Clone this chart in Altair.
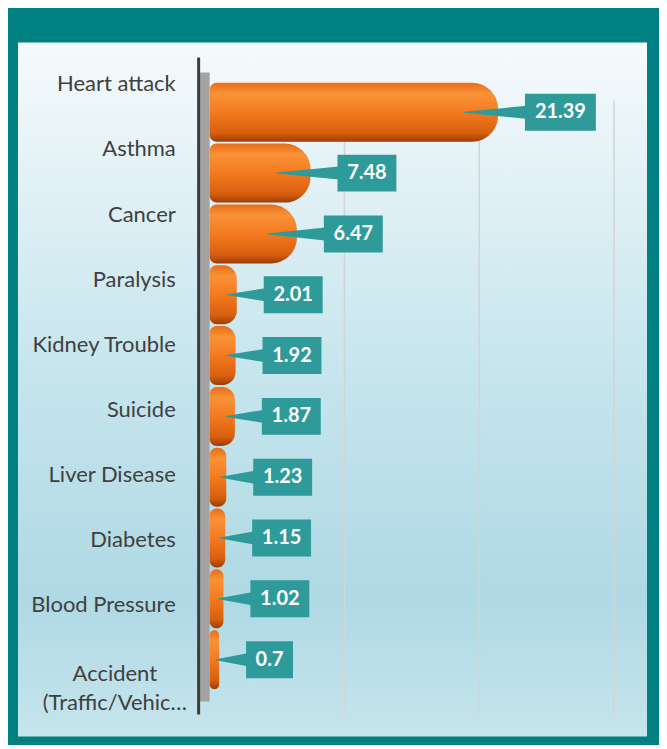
import altair as alt
import pandas as pd
import numpy as np

categories = ["Heart attack", "Asthma", "Cancer", "Paralysis", "Kidney Trouble",
              "Suicide", "Liver Disease", "Diabetes", "Blood Pressure",
              "Accident (Traffic/Vehic…"]
label_text = ["Heart attack", "Asthma", "Cancer", "Paralysis", "Kidney Trouble",
              "Suicide", "Liver Disease", "Diabetes", "Blood Pressure",
              "Accident\n(Traffic/Vehic…"]
values = [21.39, 7.48, 6.47, 2.01, 1.92, 1.87, 1.23, 1.15, 1.02, 0.7]
value_labels = ["21.39", "7.48", "6.47", "2.01", "1.92", "1.87", "1.23", "1.15", "1.02", "0.7"]
grid_ticks = [10, 20, 30]

PX = 13.5          # pixels per unit
W, H = 630, 695    # plot area (inner panel)
X0 = 192           # pixel of value 0
xdom = [-X0 / PX, (W - X0) / PX]

df = pd.DataFrame({"cat": categories, "v": values, "lab": value_labels})
df["z"] = 0.0
df["box_x"] = df["v"] + 27 / PX
df["box_x2"] = df["box_x"] + (12 * df["lab"].str.len() + 11) / PX
df["mid"] = (df["box_x"] + df["box_x2"]) / 2
df["tip"] = df["v"] - np.minimum(2.5, 0.33 * df["v"])

wedge = pd.concat([
    pd.DataFrame({"cat": df["cat"], "x": df["tip"], "s": 0.0}),
    pd.DataFrame({"cat": df["cat"], "x": df["box_x"] + 0.1, "s": 13.0}),
], ignore_index=True)

lab_df = pd.DataFrame({"cat": categories, "txt": label_text})

frame = pd.DataFrame({"x0": [xdom[0]], "x1": [xdom[1]], "w0": [-0.75], "w1": [0.0], "ax": [-0.82]})

xs = alt.Scale(domain=xdom, nice=False, zero=False)
ys = alt.Scale(domain=categories, paddingInner=0.03, paddingOuter=0.72, align=0.46)

bg_grad = alt.LinearGradient(
    gradient="linear", x1=0, x2=0, y1=0, y2=1,
    stops=[alt.GradientStop(offset=0, color="#F6FAFC"),
           alt.GradientStop(offset=0.45, color="#C8E6EE"),
           alt.GradientStop(offset=0.8, color="#AFD9E4"),
           alt.GradientStop(offset=1, color="#C6E5EC")])

bar_grad = alt.LinearGradient(
    gradient="linear", x1=0, x2=0, y1=0, y2=1,
    stops=[alt.GradientStop(offset=0, color="#E86C16"),
           alt.GradientStop(offset=0.18, color="#F99238"),
           alt.GradientStop(offset=0.5, color="#F47A1F"),
           alt.GradientStop(offset=0.85, color="#D85F0E"),
           alt.GradientStop(offset=1, color="#9C3D08")])

bg = alt.Chart(frame).mark_rect(color=bg_grad).encode(
    x=alt.X("x0:Q", scale=xs, axis=None), x2="x1:Q", y=alt.value(0), y2=alt.value(H))

grid = alt.Chart(pd.DataFrame({"g": grid_ticks})).mark_rule(
    color="#D4D4D4", strokeWidth=1.5).encode(
    x=alt.X("g:Q", scale=xs, axis=None), y=alt.value(58), y2=alt.value(671))

wall = alt.Chart(frame).mark_rect(color="#A3A3A3").encode(
    x=alt.X("w0:Q", scale=xs, axis=None), x2="w1:Q", y=alt.value(30), y2=alt.value(660))

axis_line = alt.Chart(frame).mark_rule(color="#3C3C3C", strokeWidth=3).encode(
    x=alt.X("ax:Q", scale=xs, axis=None), y=alt.value(15), y2=alt.value(673))

bars = alt.Chart(df).mark_bar(
    color=bar_grad, cornerRadiusTopRight=26, cornerRadiusBottomRight=26,
    cornerRadiusTopLeft=7, cornerRadiusBottomLeft=7).encode(
    x=alt.X("z:Q", scale=xs, axis=None), x2="v:Q",
    y=alt.Y("cat:N", scale=ys, axis=None, sort=None))

wedges = alt.Chart(wedge).mark_trail(color="#2E9A9A").encode(
    x=alt.X("x:Q", scale=xs, axis=None),
    y=alt.Y("cat:N", scale=ys, axis=None, sort=None),
    size=alt.Size("s:Q", scale=None, legend=None),
    detail="cat:N")

boxes = alt.Chart(df).mark_bar(color="#2E9A9A").encode(
    x=alt.X("box_x:Q", scale=xs, axis=None), x2="box_x2:Q",
    y=alt.Y("cat:N", scale=ys, axis=None, sort=None), size=alt.value(37))

texts = alt.Chart(df).mark_text(
    color="white", font="Lato", fontWeight="bold", fontSize=20,
    align="center", baseline="middle").encode(
    x=alt.X("mid:Q", scale=xs, axis=None),
    y=alt.Y("cat:N", scale=ys, axis=None, sort=None),
    text="lab:N")

# category labels sit on a slightly wider spacing than the bars (3-D wall)
label_layers = []
for i, (cat, txt) in enumerate(zip(categories, label_text)):
    multi = "\n" in txt
    label_layers.append(
        alt.Chart(lab_df).transform_filter(alt.FieldEqualPredicate(field="cat", equal=cat))
        .mark_text(font="Lato", fontSize=22, color="#404040",
                   align="center" if multi else "right", baseline="middle",
                   lineBreak="\n", lineHeight=29,
                   dy=14 if multi else round(-28.0 + 4.3 * i, 1))
        .encode(x=alt.value(97 if multi else 158),
                y=alt.Y("cat:N", scale=ys, axis=None, sort=None),
                text="txt:N"))

chart = alt.layer(bg, grid, wall, axis_line, bars, wedges, boxes, texts,
                  *label_layers).properties(
    width=W, height=H,
    padding={"left": 10, "top": 34, "right": 12, "bottom": 8},
    autosize=alt.AutoSizeParams(type="none"),
    background="#008080",
).configure_view(stroke=None)

chart.save("out.html", embed_options={"renderer": "svg", "actions": False})
